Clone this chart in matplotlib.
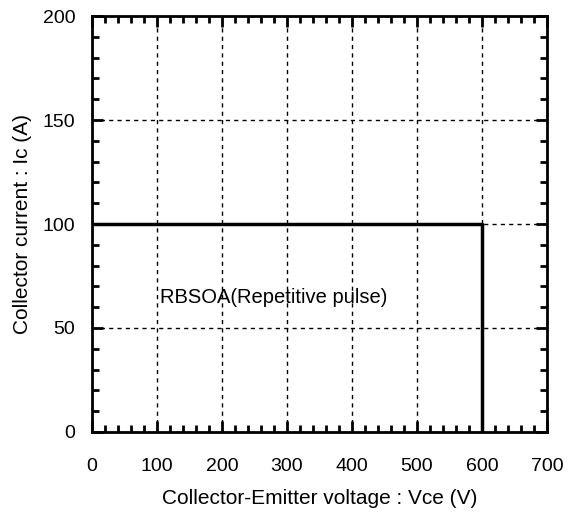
import numpy as np
import matplotlib.pyplot as plt
from matplotlib.ticker import MultipleLocator

# RBSOA boundary
vce = [0, 600, 600]
ic = [100, 100, 0]
xticks = [0, 100, 200, 300, 400, 500, 600, 700]
yticks = [0, 50, 100, 150, 200]

plt.rcParams['font.family'] = ['Liberation Sans', 'DejaVu Sans']

fig = plt.figure(figsize=(5.71, 5.21), dpi=100)
ax = fig.add_axes([92/571, 1-432/521, 455/571, 416/521])

ax.plot(vce, ic, color='black', lw=2.5, solid_capstyle='butt')
ax.text(104, 64.5, 'RBSOA(Repetitive pulse)', fontsize=14.5, va='center', ha='left')

ax.set_xlim(0, 700)
ax.set_ylim(0, 200)
ax.set_xticks(xticks)
ax.set_yticks(yticks)
ax.xaxis.set_minor_locator(MultipleLocator(20))
ax.yaxis.set_minor_locator(MultipleLocator(10))
ax.tick_params(which='both', direction='in', top=True, right=True, width=2, labelsize=14)
ax.tick_params(which='major', length=8)
ax.tick_params(which='minor', length=5)
ax.tick_params(axis='x', which='major', pad=19)
ax.tick_params(axis='y', which='major', pad=12)
ax.grid(True, which='major', color='black', ls=(0, (3, 3)), lw=1)
for s in ax.spines.values():
    s.set_linewidth(2)

ax.set_xlabel('Collector-Emitter voltage : Vce (V)', fontsize=15, labelpad=10)
ax.set_ylabel('Collector current : Ic (A)', fontsize=15, labelpad=8)

fig.savefig('out.png', dpi=100)
